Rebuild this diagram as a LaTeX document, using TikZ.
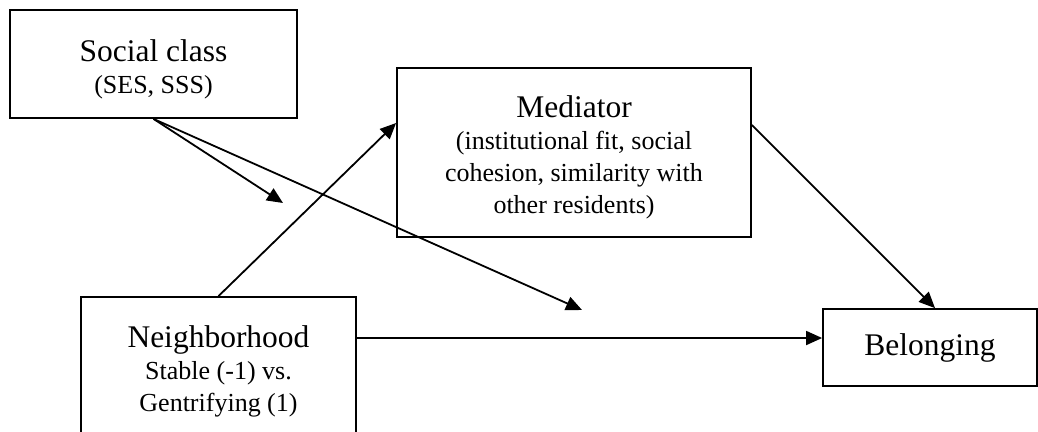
\documentclass[tikz,border=0pt]{standalone}
\usepackage{fontspec}
\setmainfont{Liberation Serif}
\usetikzlibrary{arrows.meta}
\newcommand\mainf{\fontsize{31.5}{31}\selectfont}
\newcommand\subf{\fontsize{26}{32}\selectfont}
\newcommand\topstrut{\rule{0pt}{32pt}}
\tikzset{
  box/.style={draw, line width=1.8pt, inner sep=0pt, align=center, font=\subf},
  arr/.style={-{Triangle[length=16pt,width=14pt]}, line width=1.8pt},
}
\begin{document}
\begin{tikzpicture}[x=1pt,y=-1pt]
\path[use as bounding box, clip] (0,0) rectangle (1038,431);
\node[box, minimum width=287pt, minimum height=108pt] (social) at (153.5,64)
  {\topstrut{\mainf Social class}\\(SES, SSS)};
\node[box, minimum width=354pt, minimum height=169pt] (med) at (574,152.5)
  {\topstrut{\mainf Mediator}\\(institutional fit, social\\cohesion, similarity with\\other residents)};
\node[box, minimum width=275pt, minimum height=148pt] (neigh) at (218.5,371)
  {{\mainf Neighborhood}\\Stable (-1) vs.\\Gentrifying (1)};
\node[box, minimum width=214pt, minimum height=77pt] (bel) at (930,347.5)
  {{\mainf Belonging}};
\coordinate (m1) at (283,203);
\coordinate (m2) at (582,310);
\coordinate (medin) at (med.west |- 0,123);
\coordinate (medout) at (med.east |- 0,125);
\coordinate (belin) at ([xshift=5pt]bel.north);
\coordinate (neighout) at (neigh.east |- 0,338);
\coordinate (belleft) at (bel.west |- 0,338);
\draw[arr] (social.south) -- (m1);
\draw[arr] (social.south) -- (m2);
\draw[arr] (neigh.north) -- (medin);
\draw[arr] (medout) -- (belin);
\draw[arr] (neighout) -- (belleft);
\end{tikzpicture}
\end{document}
